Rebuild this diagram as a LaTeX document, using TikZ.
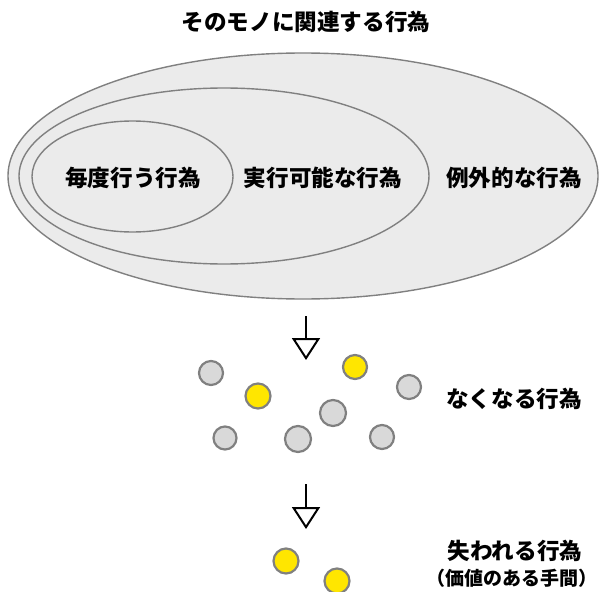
\documentclass[tikz,border=0pt]{standalone}
\usepackage{fontspec}
\setmainfont{Noto Sans CJK JP}
\usetikzlibrary{arrows.meta}
\definecolor{edgegray}{HTML}{808080}
\definecolor{setfill}{HTML}{EBEBEB}
\definecolor{dotgray}{HTML}{D9D9D9}
\definecolor{dotyellow}{HTML}{FFE600}
\tikzset{
  setell/.style={draw=edgegray, fill=setfill, line width=1.4pt},
  lbl/.style={font=\fontsize{22.6}{26}\selectfont\bfseries, inner sep=0pt},
  sublbl/.style={font=\fontsize{19}{22}\selectfont\bfseries, inner sep=0pt},
  dot/.style={circle, draw=edgegray, line width=2.2pt, inner sep=0pt},
  gdot/.style={dot, fill=dotgray},
  ydot/.style={dot, fill=dotyellow},
  downarrow/.style={line width=2pt, -{Triangle[open, length=22pt, width=28pt, line width=2pt]}}
}
\begin{document}
\begin{tikzpicture}[x=1pt, y=-1pt]
\useasboundingbox (0,0) rectangle (599,591);
% title
\node[lbl] (title) at (306,22) {そのモノに関連する行為};
% nested sets
\draw[setell] (303,176) ellipse [x radius=295, y radius=123];
\draw[setell] (224,176) ellipse [x radius=205, y radius=88];
\draw[setell] (132.5,176.5) ellipse [x radius=100.5, y radius=55.5];
\node[lbl] (every) at (133,178) {毎度行う行為};
\node[lbl] (feasible) at (323,178) {実行可能な行為};
\node[lbl] (exception) at (514,178) {例外的な行為};
% first arrow
\coordinate (a1s) at (306,316);
\coordinate (a1e) at (306,360);
\draw[downarrow] (a1s) -- (a1e);
% dots that vanish
\node[gdot, minimum size=24pt] (d1) at (211,373) {};
\node[ydot, minimum size=25pt] (d2) at (258,396) {};
\node[ydot, minimum size=24pt] (d3) at (355,367) {};
\node[gdot, minimum size=24pt] (d4) at (409,387) {};
\node[gdot, minimum size=26pt] (d5) at (333,413) {};
\node[gdot, minimum size=23pt] (d6) at (225,438) {};
\node[gdot, minimum size=26pt] (d7) at (298,439) {};
\node[gdot, minimum size=24pt] (d8) at (382,437) {};
\node[lbl] (vanish) at (514,399) {なくなる行為};
% second arrow
\coordinate (a2s) at (306,484);
\coordinate (a2e) at (306,529);
\draw[downarrow] (a2s) -- (a2e);
% lost dots
\node[ydot, minimum size=25pt] (l1) at (286,561) {};
\node[ydot, minimum size=25pt] (l2) at (337,581) {};
\node[lbl] (lost) at (515,551) {失われる行為};
\node[sublbl] (lostsub) at (512,578) {（価値のある手間）};
\end{tikzpicture}
\end{document}
